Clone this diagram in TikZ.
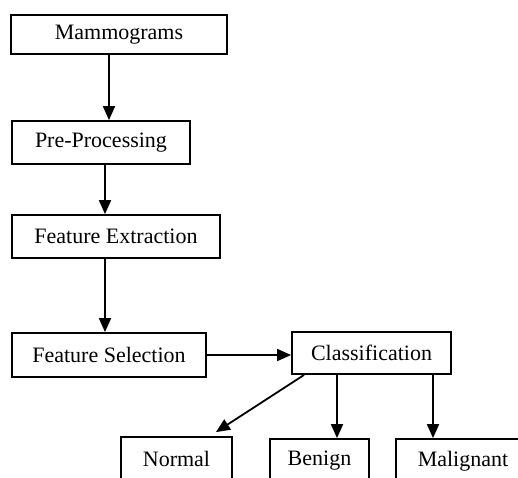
\documentclass[tikz,border=0pt]{standalone}
\usepackage{fontspec}
\setmainfont{Liberation Serif}
\usetikzlibrary{arrows.meta}
\begin{document}
\begin{tikzpicture}[x=1pt,y=-1pt,
  box/.style={draw=black, line width=1.8pt, fill=white, inner sep=0pt, font=\fontsize{22}{26}\selectfont},
  arr/.style={line width=1.8pt, -{Triangle[length=14pt,width=12pt]}}]
\useasboundingbox (0,0) rectangle (518,477);
\clip (0,0) rectangle (518,477);
\fill[white] (0,0) rectangle (518,477);
\node[box, minimum width=216pt, minimum height=39pt] (mam) at (119,34.5) {Mammograms};
\node[box, minimum width=178pt, minimum height=43pt] (pre) at (101,142.5) {Pre-Processing};
\node[box, minimum width=208pt, minimum height=43pt] (fe) at (116,236.5) {Feature Extraction};
\node[box, minimum width=194pt, minimum height=44pt] (fs) at (109,355) {Feature Selection};
\node[box, minimum width=159pt, minimum height=42pt] (cls) at (371.5,353) {Classification};
\node[box, minimum width=111pt, minimum height=44pt] (nor) at (176.5,459) {Normal};
\node[box, minimum width=99pt, minimum height=44pt] (ben) at (319.5,461) {Benign};
\node[box, minimum width=134pt, minimum height=44pt] (mal) at (463,461) {Malignant};
\draw[arr] ([xshift=-10pt]mam.south) -- ([xshift=-10pt]mam.south |- pre.north);
\draw[arr] ([xshift=4pt]pre.south) -- ([xshift=4pt]pre.south |- fe.north);
\draw[arr] ([xshift=-11pt]fe.south) -- ([xshift=-11pt]fe.south |- fs.north);
\draw[arr] (fs.east) -- (fs.east -| cls.west);
\draw[arr] ([xshift=13pt]cls.south west) -- ([xshift=-17pt,yshift=4pt]nor.north east);
\draw[arr] ([xshift=-34.5pt]cls.south) -- ([xshift=-34.5pt]cls.south |- ben.north);
\draw[arr] ([xshift=61.5pt]cls.south) -- ([xshift=61.5pt]cls.south |- mal.north);
\end{tikzpicture}
\end{document}
